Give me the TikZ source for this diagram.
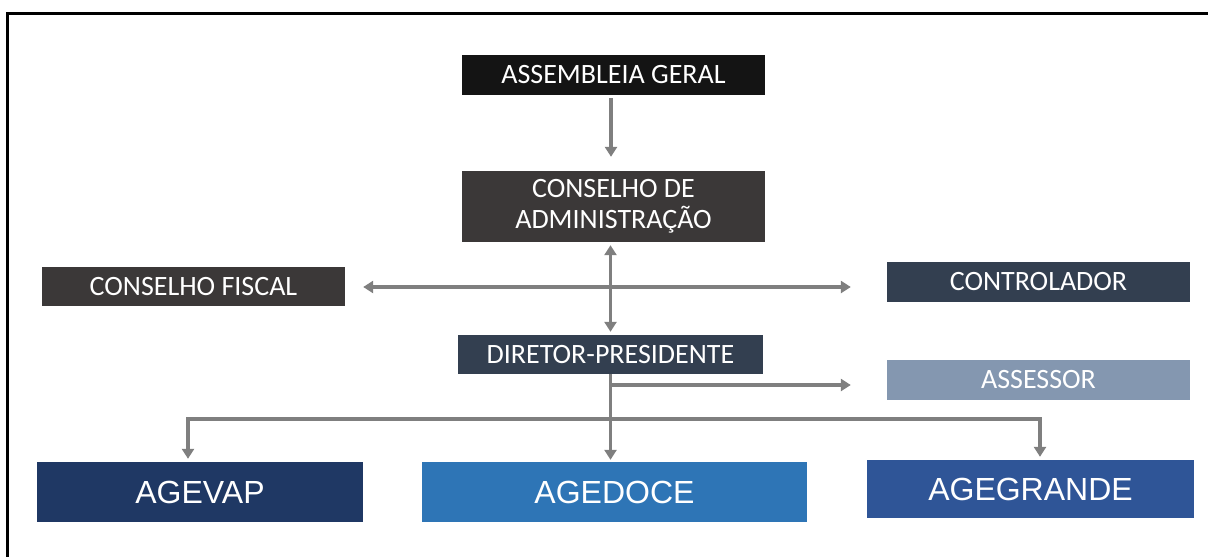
\documentclass[tikz,border=0pt]{standalone}
\usepackage{fontspec}
\setmainfont{Carlito}
\newfontfamily\unitfont{Liberation Sans}
\usetikzlibrary{arrows.meta}
\definecolor{agblack}{HTML}{141414}
\definecolor{cagray}{HTML}{3B3838}
\definecolor{navydark}{HTML}{333F50}
\definecolor{assblue}{HTML}{8497B0}
\definecolor{vapblue}{HTML}{1F3864}
\definecolor{doceblue}{HTML}{2E75B6}
\definecolor{grandeblue}{HTML}{2F5597}
\definecolor{linkgray}{HTML}{7F7F7F}
\begin{document}
\begin{tikzpicture}[x=1pt, y=-1pt,
    orgbox/.style={inner sep=0pt, text=white, align=center,
        font=\fontsize{28}{31}\selectfont, minimum width=303pt, minimum height=40pt},
    unitbox/.style={inner sep=0pt, text=white,
        font=\unitfont\fontsize{32}{36}\selectfont, minimum height=60pt},
    link/.style={draw=linkgray, line width=3.5pt, -{Triangle[length=10pt,width=12pt]}},
    both/.style={link, {Triangle[length=10pt,width=12pt]}-{Triangle[length=10pt,width=12pt]}}]
        \useasboundingbox (0,0) rectangle (1208,557);
        \draw[black, line width=3pt] (7,557) -- (7,13) -- (1208,13);

        \node[orgbox, fill=agblack] (ag) at (613.5,75) {ASSEMBLEIA GERAL};
        \node[orgbox, fill=cagray, minimum height=71pt] (ca) at (613.5,206.5) {CONSELHO DE\\ADMINISTRAÇÃO};
        \node[orgbox, fill=cagray, minimum height=39pt] (cf) at (193.5,286.5) {CONSELHO FISCAL};
        \node[orgbox, fill=navydark] (ctrl) at (1038.5,282) {CONTROLADOR};
        \node[orgbox, fill=navydark, minimum width=305pt, minimum height=39pt] (dp) at (610.5,354.5) {DIRETOR-PRESIDENTE};
        \node[orgbox, fill=assblue] (ass) at (1038.5,380) {ASSESSOR};

        \node[unitbox, fill=vapblue, minimum width=326pt] (agevap) at (200,492) {AGEVAP};
        \node[unitbox, fill=doceblue, minimum width=385pt] (agedoce) at (614.5,492) {AGEDOCE};
        \node[unitbox, fill=grandeblue, minimum width=327pt, minimum height=58pt] (agegrande) at (1030.5,489) {AGEGRANDE};

        \coordinate (bus) at (610.5,419);
        \coordinate (cfport) at ([yshift=-0.5pt]cf.east);

        \draw[link, shorten <=3pt, shorten >=14pt] ([xshift=-2.5pt]ag.south) -- ([xshift=-2.5pt]ca.north);
        \draw[both, shorten <=3pt, shorten >=3pt] (dp.north |- ca.south) -- (dp.north);
        \draw[both, shorten <=18pt, shorten >=36pt] (cfport) -- (ctrl.west |- cfport);
        \draw[link, shorten >=36pt] (dp.south) |- ([yshift=-5pt]ass.west);
        \draw[link, shorten >=2pt] (dp.south) -- (dp.south |- agedoce.north);
        \draw[both, shorten <=3pt, shorten >=3pt] ([xshift=-12pt]agevap.north) |- (bus) -| ([xshift=9.5pt]agegrande.north);
    \end{tikzpicture}
\end{document}
